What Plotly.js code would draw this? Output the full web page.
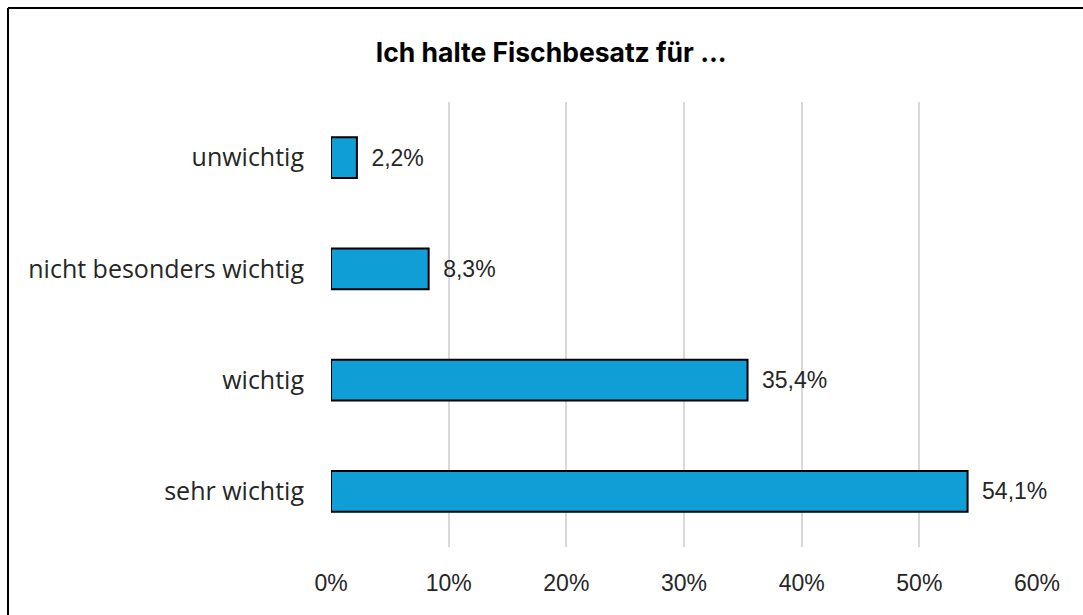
<!DOCTYPE html>
<html>
<head>
<meta charset="utf-8">
<script src="https://cdn.plot.ly/plotly-3.0.1.min.js"></script>
<style>
  html, body { margin: 0; padding: 0; background: #fff; }
  #chart { width: 1083px; height: 615px; }
</style>
</head>
<body>
<div id="chart"></div>
<script>
// categories bottom-to-top (plotly puts the first category at the bottom)
const categories = ['sehr wichtig', 'wichtig', 'nicht besonders wichtig', 'unwichtig'];
const shares = [0.541, 0.354, 0.083, 0.022];
const xTicks = [0, 0.1, 0.2, 0.3, 0.4, 0.5, 0.6];

const LABEL_FONT = 'Open Sans, sans-serif';
const NUM_FONT = 'Liberation Sans, Arial, sans-serif';

Plotly.newPlot('chart', [{
  type: 'bar',
  orientation: 'h',
  x: shares,
  y: categories,
  marker: { color: '#0f9ed5', line: { color: '#000000', width: 2 } },
  texttemplate: '\u2002%{x:.1%}',
  textposition: 'outside',
  cliponaxis: false,
  textfont: { family: NUM_FONT, size: 23, color: '#262626' },
  hoverinfo: 'skip',
}], {
  width: 1083,
  height: 615,
  paper_bgcolor: '#ffffff',
  plot_bgcolor: '#ffffff',
  separators: ',.',
  margin: { l: 331, r: 46, t: 102, b: 68 },
  bargap: 0.635,
  showlegend: false,
  title: {
    text: '<b>Ich halte Fischbesatz für ...</b>',
    font: { family: 'Inter, sans-serif', size: 26.5, color: '#000000' },
    x: 0.509, xanchor: 'center', xref: 'container',
    y: 0.915, yanchor: 'middle', yref: 'container',
  },
  xaxis: {
    range: [0, 0.6],
    tickvals: xTicks,
    tickformat: '.0%',
    showgrid: true,
    gridcolor: '#d9d9d9',
    gridwidth: 2,
    zeroline: false,
    showline: false,
    ticks: '',
    ticklabelstandoff: 20,
    tickfont: { family: NUM_FONT, size: 23, color: '#262626' },
    fixedrange: true,
  },
  yaxis: {
    showgrid: false,
    zeroline: false,
    showline: false,
    ticks: '',
    ticklabelstandoff: 26,
    tickfont: { family: LABEL_FONT, size: 25, color: '#262626' },
    fixedrange: true,
  },
  shapes: [
    // outer frame of the chart (top and left edges visible in the crop)
    { type: 'line', xref: 'paper', yref: 'paper', x0: -0.4575, x1: -0.4575, y0: -0.2, y1: 1.2112,
      line: { color: '#000000', width: 2 } },
    { type: 'line', xref: 'paper', yref: 'paper', x0: -0.4575, x1: 1.2, y0: 1.2112, y1: 1.2112,
      line: { color: '#000000', width: 2 } },
  ],
}, { displayModeBar: false, staticPlot: true });
</script>
</body>
</html>
